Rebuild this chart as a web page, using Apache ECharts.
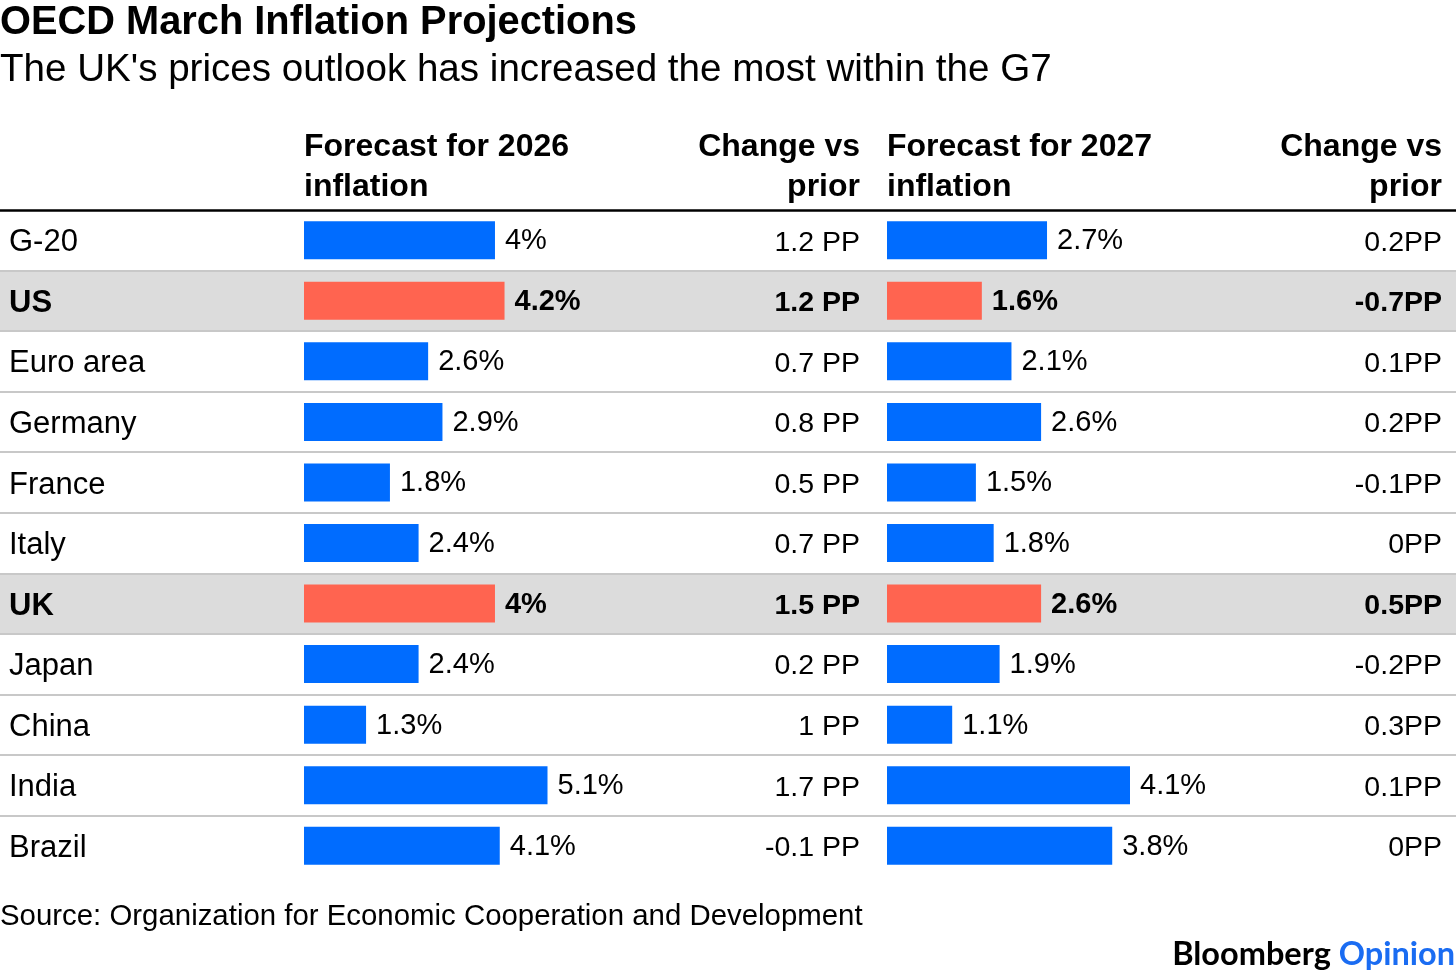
<!DOCTYPE html>
<html><head><meta charset="utf-8">
<script src="https://cdn.jsdelivr.net/npm/echarts@6/dist/echarts.min.js"></script>
<style>html,body{margin:0;padding:0;background:#fff}#c{width:1456px;height:976px}</style>
</head><body><div id="c"></div>
<script>
const countries = ['G-20','US','Euro area','Germany','France','Italy','UK','Japan','China','India','Brazil'];
const forecast2026 = [4, 4.2, 2.6, 2.9, 1.8, 2.4, 4, 2.4, 1.3, 5.1, 4.1];
const change2026 = ['1.2 PP','1.2 PP','0.7 PP','0.8 PP','0.5 PP','0.7 PP','1.5 PP','0.2 PP','1 PP','1.7 PP','-0.1 PP'];
const forecast2027 = [2.7, 1.6, 2.1, 2.6, 1.5, 1.8, 2.6, 1.9, 1.1, 4.1, 3.8];
const change2027 = ['0.2PP','-0.7PP','0.1PP','0.2PP','-0.1PP','0PP','0.5PP','-0.2PP','0.3PP','0.1PP','0PP'];
const highlighted = ['US','UK'];

const FONT = "'Liberation Sans', Arial, sans-serif";
const BLUE = '#006cff';
const RED = '#ff6450';
const isHi = i => highlighted.indexOf(countries[i]) >= 0;

const TOP = 210, H = 666;
const chart = echarts.init(document.getElementById('c'));

function barData(vals) {
  return vals.map((v, i) => ({
    value: v,
    itemStyle: { color: isHi(i) ? RED : BLUE },
    label: { fontWeight: isHi(i) ? 'bold' : 'normal' }
  }));
}
function richFmt(arr) {
  return (v, i) => isHi(i) ? '{b|' + arr[i] + '}' : '{n|' + arr[i] + '}';
}
const rich = {
  n: { fontFamily: FONT, fontSize: 28.5, color: '#000', fontWeight: 'normal', padding: [5, 0, 0, 0] },
  b: { fontFamily: FONT, fontSize: 28.5, color: '#000', fontWeight: 'bold', padding: [5, 0, 0, 0] }
};
const richC = {
  n: { fontFamily: FONT, fontSize: 31, color: '#000', fontWeight: 'normal', padding: [5, 0, 0, 0] },
  b: { fontFamily: FONT, fontSize: 31, color: '#000', fontWeight: 'bold', padding: [5, 0, 0, 0] }
};

const hidX = (g, max) => ({ type: 'value', gridIndex: g, min: 0, max: max, show: false });
const hidY = (g) => ({ type: 'category', gridIndex: g, data: countries, inverse: true, show: false });

const txt = (x, y, text, size, weight, align) => ({
  type: 'text', x: x, y: y,
  style: { text: text, fontFamily: FONT, fontSize: size, fontWeight: weight || 'normal', fill: '#000',
           align: align || 'left', verticalAlign: 'middle' }
});

chart.setOption({
  animation: false,
  backgroundColor: '#fff',
  grid: [
    { left: 0, right: 0, top: TOP, height: H },
    { left: 304, width: 243.5, top: TOP, height: H },
    { left: 560, width: 300, top: TOP, height: H },
    { left: 887, width: 243, top: TOP, height: H },
    { left: 1142, width: 300, top: TOP, height: H }
  ],
  xAxis: [
    { type: 'value', gridIndex: 0, min: 0, max: 1, position: 'top',
      axisLine: { show: true, lineStyle: { color: '#000', width: 2.5 } },
      axisTick: { show: false }, axisLabel: { show: false }, splitLine: { show: false }, z: 3 },
    hidX(1, 5.1), hidX(2, 1), hidX(3, 4.1), hidX(4, 1)
  ],
  yAxis: [
    { type: 'category', gridIndex: 0, data: countries, inverse: true, z: 1,
      axisLine: { show: false }, axisTick: { show: false },
      axisLabel: { inside: true, margin: 9, formatter: richFmt(countries), rich: richC },
      splitLine: { show: true, interval: 0, showMinLine: false, showMaxLine: false,
                   lineStyle: { color: '#c8c8c8', width: 2 } } },
    hidY(1),
    { type: 'category', gridIndex: 2, data: countries, inverse: true, position: 'right',
      axisLine: { show: false }, axisTick: { show: false },
      axisLabel: { inside: true, margin: 0, formatter: richFmt(change2026), rich: rich } },
    hidY(3),
    { type: 'category', gridIndex: 4, data: countries, inverse: true, position: 'right',
      axisLine: { show: false }, axisTick: { show: false },
      axisLabel: { inside: true, margin: 0, formatter: richFmt(change2027), rich: rich } }
  ],
  series: [
    { type: 'bar', xAxisIndex: 0, yAxisIndex: 0, silent: true, z: 0, barWidth: '100%',
      data: countries.map((c, i) => isHi(i) ? 1 : 0), itemStyle: { color: '#dcdcdc' } },
    { type: 'bar', xAxisIndex: 1, yAxisIndex: 1, barWidth: 38, data: barData(forecast2026),
      label: { show: true, position: 'right', distance: 10, offset: [0, 1], formatter: '{c}%',
               fontFamily: FONT, fontSize: 29, color: '#000' } },
    { type: 'bar', xAxisIndex: 3, yAxisIndex: 3, barWidth: 38, data: barData(forecast2027),
      label: { show: true, position: 'right', distance: 10, offset: [0, 1], formatter: '{c}%',
               fontFamily: FONT, fontSize: 29, color: '#000' } }
  ],
  graphic: [
    txt(0, 23, 'OECD March Inflation Projections', 39.8, 'bold'),
    txt(0, 70, "The UK's prices outlook has increased the most within the G7", 38.6),
    txt(304, 147, 'Forecast for 2026', 32, 'bold'),
    txt(304, 187, 'inflation', 32, 'bold'),
    txt(860, 147, 'Change vs', 32, 'bold', 'right'),
    txt(860, 187, 'prior', 32, 'bold', 'right'),
    txt(887, 147, 'Forecast for 2027', 32, 'bold'),
    txt(887, 187, 'inflation', 32, 'bold'),
    txt(1442, 147, 'Change vs', 32, 'bold', 'right'),
    txt(1442, 187, 'prior', 32, 'bold', 'right'),
    txt(0, 917, 'Source: Organization for Economic Cooperation and Development', 29.4),
    { type: 'text', x: 1455, y: 955,
      style: { text: '{b|Bloomberg} {o|Opinion}', align: 'right', verticalAlign: 'middle',
        rich: {
          b: { fontFamily: 'Lato, sans-serif', fontSize: 32.5, fontWeight: 'bold', fill: '#000', color: '#000' },
          o: { fontFamily: 'Lato, sans-serif', fontSize: 32.5, fontWeight: 'bold', fill: '#1a6cf2', color: '#1a6cf2' }
        },
        fontFamily: 'Lato, sans-serif', fontSize: 32.5, fontWeight: 'bold' } }
  ]
});
</script></body></html>
